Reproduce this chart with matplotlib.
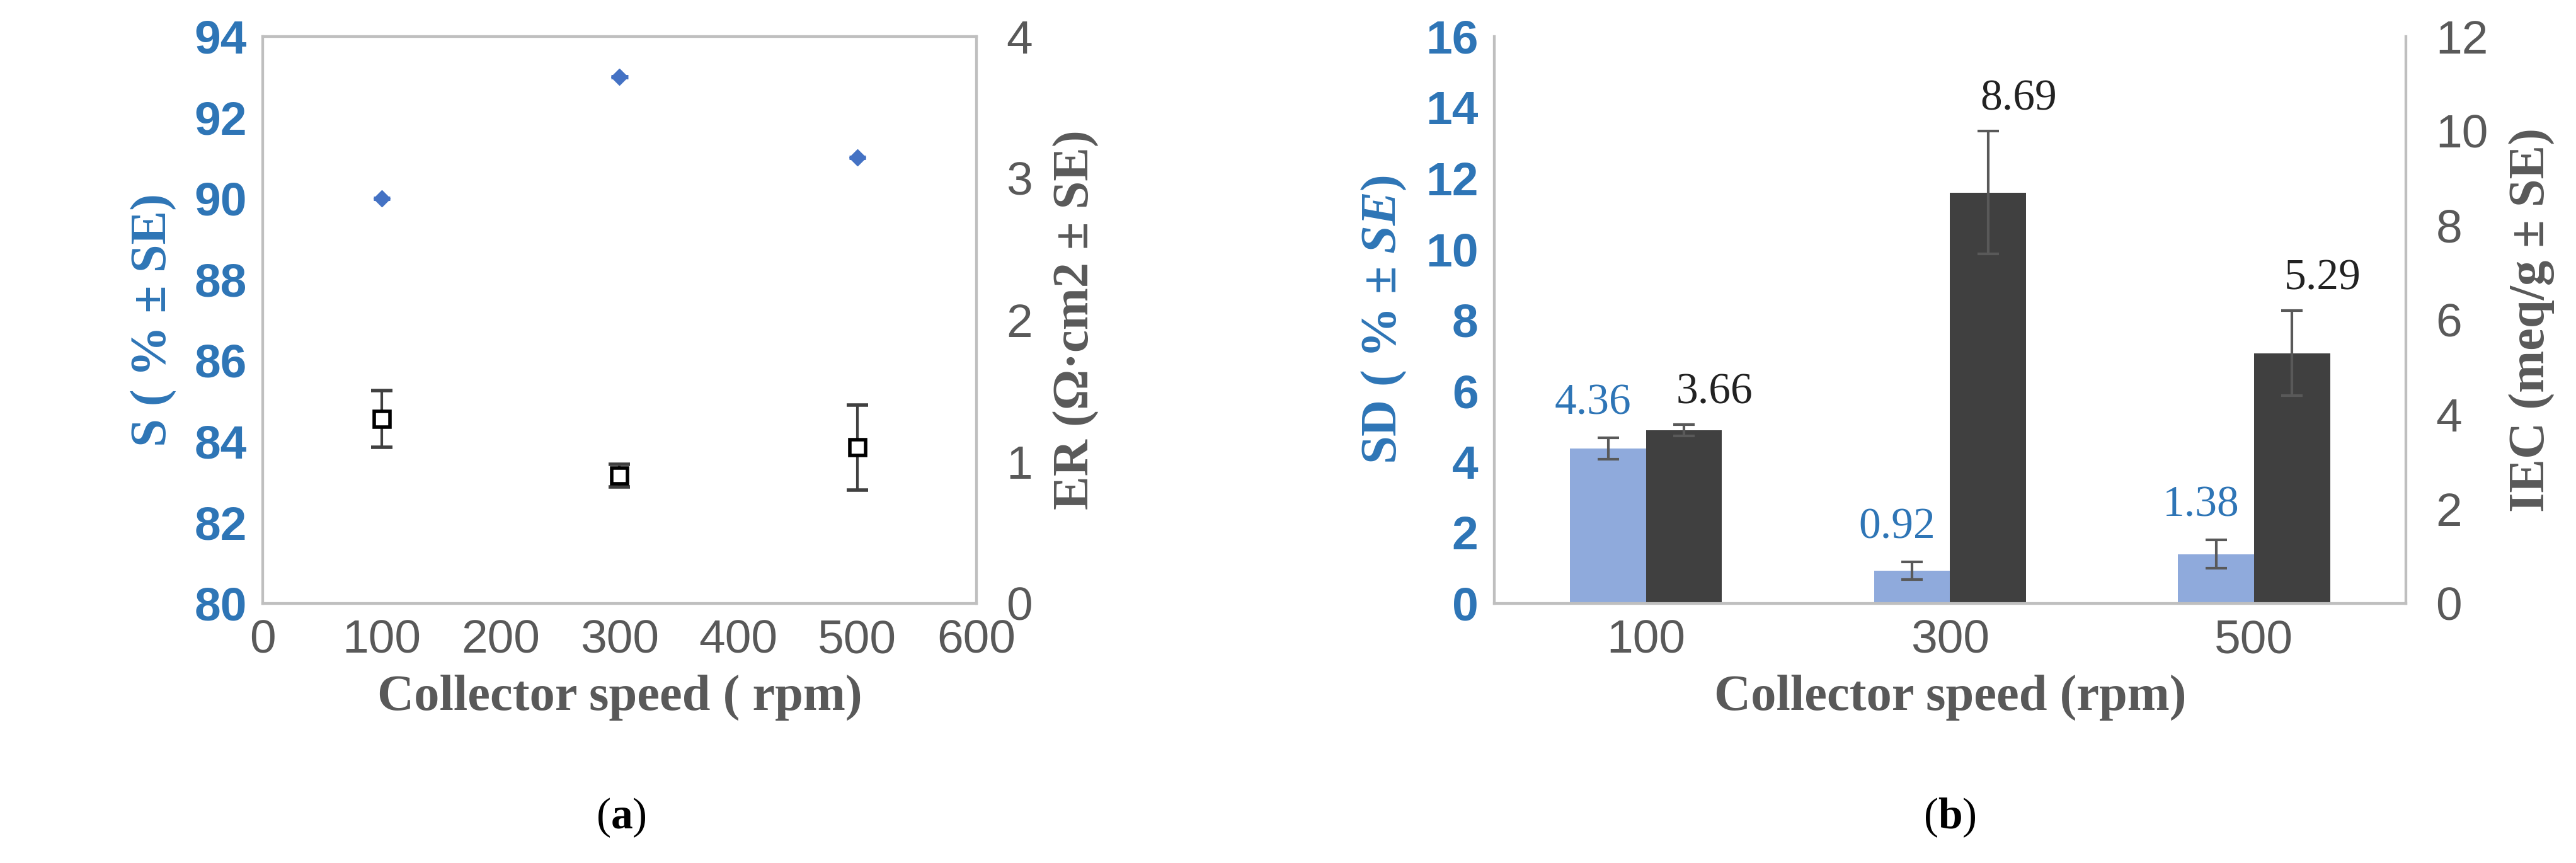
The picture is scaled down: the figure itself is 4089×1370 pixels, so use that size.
import matplotlib
matplotlib.use("Agg")
import matplotlib.pyplot as plt
import numpy as np

speed = [100, 300, 500]
S = [90, 93, 91]
S_err = [0.12, 0.15, 0.12]
ER = [1.3, 0.9, 1.1]
ER_err = [0.2, 0.08, 0.3]
cats = ["100", "300", "500"]
SD = [4.36, 0.92, 1.38]
SD_err = [0.3, 0.25, 0.4]
IEC = [3.66, 8.69, 5.29]
IEC_err = [0.12, 1.3, 0.9]

plt.rcParams["mathtext.fontset"] = "custom"
plt.rcParams["mathtext.bf"] = "Liberation Serif:bold"
plt.rcParams["mathtext.it"] = "Liberation Serif:italic:bold"
plt.rcParams["mathtext.rm"] = "Liberation Serif"

blue = "#2E75B6"
gray = "#595959"
axc = "#BFBFBF"
serif = "Liberation Serif"
TS = 54
LS = 58

fig = plt.figure(figsize=(40.89, 13.70), dpi=100)

def style(ax):
    for s in ax.spines.values():
        s.set_color(axc); s.set_linewidth(3)
    ax.tick_params(length=0, labelsize=TS, pad=18)

# Panel a
ax = fig.add_axes([0.102, 0.301, 0.277, 0.657])
ax.errorbar(speed, S, yerr=S_err, xerr=7, fmt="D", color="#4472C4", ms=13, elinewidth=5, capsize=0)
ax.set_xlim(0, 600); ax.set_ylim(80, 94)
ax.set_xticks(range(0, 601, 100)); ax.set_yticks(range(80, 95, 2))
style(ax)
for t in ax.get_yticklabels():
    t.set_color(blue); t.set_fontweight("bold"); t.set_fontfamily("Liberation Sans")
for t in ax.get_xticklabels():
    t.set_color(gray); t.set_fontfamily("Liberation Sans")
ax.set_ylabel("S ( % ± SE)", fontsize=LS, fontweight="bold", color=blue, family=serif, labelpad=20)
ax.set_xlabel("Collector speed ( rpm)", fontsize=LS, fontweight="bold", color=gray, family=serif, labelpad=14)
ax2 = ax.twinx()
ax2.errorbar(speed, ER, yerr=ER_err, fmt="s", mfc="white", mec="black", mew=4, ms=18,
             ecolor="#404040", elinewidth=3, capsize=12, capthick=3)
ax2.set_ylim(0, 4); ax2.set_yticks(range(0, 5))
style(ax2)
ax2.tick_params(pad=34)
for t in ax2.get_yticklabels():
    t.set_color(gray); t.set_fontfamily("Liberation Sans")
ax2.set_ylabel("ER (Ω·cm2 ± SE)", fontsize=LS, fontweight="bold", color=gray, family=serif, labelpad=24)
fig.text(0.241, 0.04, r"($\mathbf{a}$)", fontsize=50, ha="center", family=serif)

# Panel b
bx = fig.add_axes([0.580, 0.301, 0.354, 0.657])
x = np.arange(len(cats))
w = 0.25
bx.bar(x - w/2, SD, w, color="#8FAADC", yerr=SD_err, ecolor=gray,
       error_kw=dict(elinewidth=3, capsize=12, capthick=3))
bx.set_ylim(0, 16); bx.set_yticks(range(0, 17, 2))
bx.set_xlim(-0.5, 2.5); bx.set_xticks(x); bx.set_xticklabels(cats)
style(bx)
bx.spines["top"].set_visible(False)
for t in bx.get_yticklabels():
    t.set_color(blue); t.set_fontweight("bold"); t.set_fontfamily("Liberation Sans")
for t in bx.get_xticklabels():
    t.set_color(gray); t.set_fontfamily("Liberation Sans")
for xi, v, e in zip(x, SD, SD_err):
    bx.text(xi - w/2 - 0.05, v + e + 0.4, f"{v:.2f}", ha="center", va="bottom", fontsize=50, color=blue, family=serif)
bx.set_ylabel("SD ( % ± $\\mathit{SE}$)", fontsize=LS, fontweight="bold", color=blue, family=serif, labelpad=20)
bx.set_xlabel("Collector speed (rpm)", fontsize=LS, fontweight="bold", color=gray, family=serif, labelpad=14)
bx2 = bx.twinx()
bx2.bar(x + w/2, IEC, w, color="#404040", yerr=IEC_err, ecolor=gray,
        error_kw=dict(elinewidth=3, capsize=12, capthick=3))
bx2.set_ylim(0, 12); bx2.set_yticks(range(0, 13, 2))
style(bx2)
bx2.tick_params(pad=34)
bx2.spines["top"].set_visible(False)
for t in bx2.get_yticklabels():
    t.set_color(gray); t.set_fontfamily("Liberation Sans")
for xi, v, e in zip(x, IEC, IEC_err):
    bx2.text(xi + w/2 + 0.1, v + e + 0.25, f"{v:.2f}", ha="center", va="bottom", fontsize=50, color="#222222", family=serif)
bx2.set_ylabel("IEC (meq/g ± SE)", fontsize=LS, fontweight="bold", color=gray, family=serif, labelpad=24)
fig.text(0.757, 0.04, r"($\mathbf{b}$)", fontsize=50, ha="center", family=serif)

fig.savefig("out.png", dpi=100)
